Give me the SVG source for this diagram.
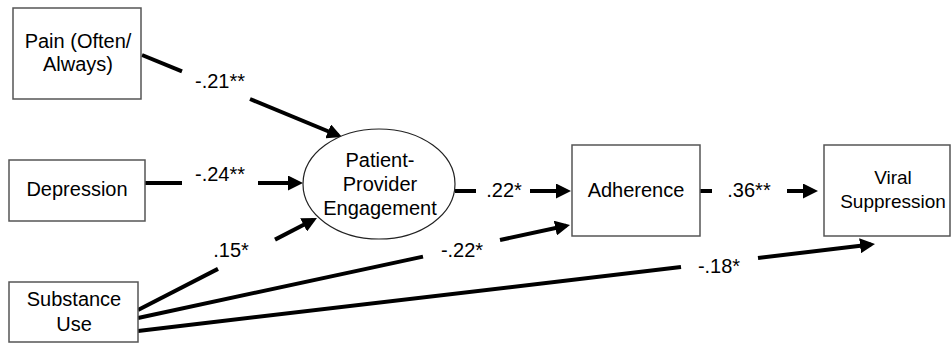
<svg xmlns="http://www.w3.org/2000/svg" width="952" height="343" viewBox="0 0 952 343">
<defs>
<marker id="ah" markerUnits="userSpaceOnUse" markerWidth="15" markerHeight="15" refX="11" refY="7.5" orient="auto">
<path d="M0,0 L15,7.5 L0,15 z" fill="#000"/>
</marker>
<style>
.box{fill:#fff;stroke:#555;stroke-width:1.5}
.ell{fill:#fff;stroke:#222;stroke-width:1.2}
.t{font-family:"Liberation Sans",Arial,sans-serif;font-size:20px;fill:#000;text-anchor:middle}
.lbl{font-family:"Liberation Sans",Arial,sans-serif;font-size:20px;fill:#000;text-anchor:middle}
.ln{stroke:#000;stroke-width:4;fill:none}
.arr{stroke:#000;stroke-width:4;fill:none;marker-end:url(#ah)}
</style>
</defs>
<rect width="952" height="343" fill="#fff"/>
<g id="connectors">
<line class="ln" x1="142" y1="55" x2="182" y2="71.4"/>
<line class="arr" x1="250" y1="99" x2="338.3" y2="135.5"/>
<line class="ln" x1="145" y1="183" x2="182" y2="183"/>
<line class="arr" x1="258" y1="183" x2="299" y2="183"/>
<line class="ln" x1="138" y1="310" x2="218" y2="268.9"/>
<line class="arr" x1="275" y1="239.6" x2="313.4" y2="219.8"/>
<line class="ln" x1="138" y1="318" x2="423" y2="256.6"/>
<line class="arr" x1="500" y1="240" x2="566.1" y2="225.8"/>
<line class="ln" x1="138" y1="331" x2="681" y2="267"/>
<line class="arr" x1="758" y1="258" x2="871" y2="244.5"/>
<line class="ln" x1="455" y1="191" x2="476" y2="191"/>
<line class="arr" x1="530" y1="191" x2="567" y2="191"/>
<line class="ln" x1="700" y1="191" x2="712" y2="191"/>
<line class="arr" x1="787" y1="191" x2="814" y2="191"/>
<text class="lbl" x="220" y="88">-.21**</text>
<text class="lbl" x="220" y="181">-.24**</text>
<text class="lbl" x="231" y="257">.15*</text>
<text class="lbl" x="462" y="257">-.22*</text>
<text class="lbl" x="719" y="273">-.18*</text>
<text class="lbl" x="504" y="197">.22*</text>
<text class="lbl" x="749" y="197">.36**</text>
</g>
<g id="pain">
<rect class="box" x="13" y="8" width="128" height="91"/>
<text class="t" x="78" y="48">Pain (Often/</text>
<text class="t" x="78" y="71">Always)</text>
</g>
<g id="depression">
<rect class="box" x="9" y="160" width="136" height="61"/>
<text class="t" x="77" y="196">Depression</text>
</g>
<g id="substance">
<rect class="box" x="9" y="282" width="129" height="60"/>
<text class="t" x="74" y="306">Substance</text>
<text class="t" x="74" y="331">Use</text>
</g>
<g id="engagement">
<ellipse class="ell" cx="379" cy="184" rx="76" ry="55"/>
<text class="t" x="380" y="167">Patient-</text>
<text class="t" x="380" y="191">Provider</text>
<text class="t" x="380" y="215">Engagement</text>
</g>
<g id="adherence">
<rect class="box" x="572" y="145" width="128" height="91"/>
<text class="t" x="636" y="197">Adherence</text>
</g>
<g id="viral">
<rect class="box" x="824" y="145" width="126" height="91"/>
<text class="t" x="893" y="184" style="font-size:19px">Viral</text>
<text class="t" x="893" y="208" style="font-size:19px">Suppression</text>
</g>
</svg>
